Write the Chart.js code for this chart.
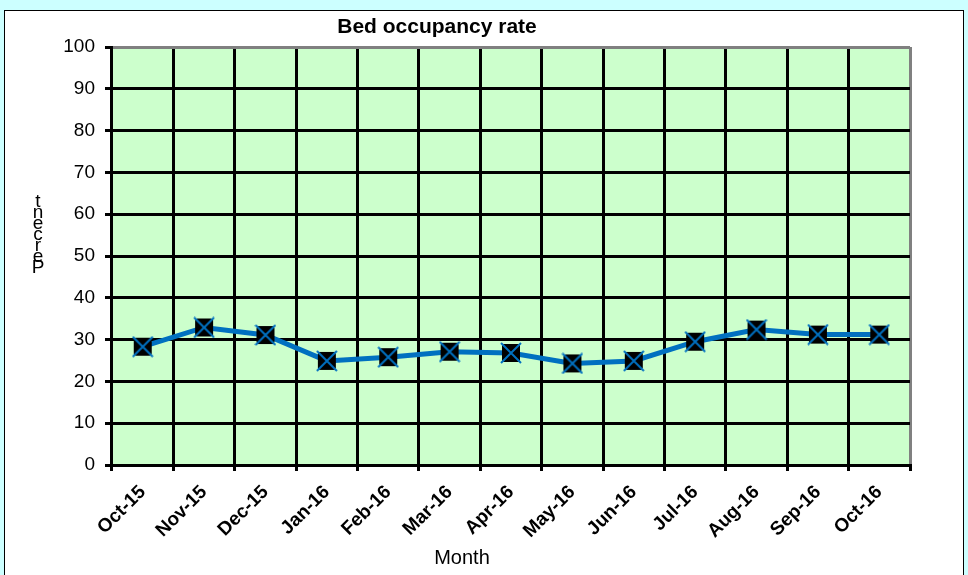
<!DOCTYPE html>
<html><head><meta charset="utf-8">
<script src="https://cdn.jsdelivr.net/npm/chart.js@4.4.1/dist/chart.umd.min.js"></script>
<style>
html,body{margin:0;padding:0;background:#CCFFFF;width:968px;height:575px;overflow:hidden}
#box{position:absolute;left:4px;top:10px;width:958px;height:570px;border:1px solid #000;background:#fff}
canvas{display:block}
</style></head><body>
<div id="box"><canvas id="c" width="958" height="564" style="width:958px;height:564px"></canvas></div>
<script>
const months = ['Oct-15','Nov-15','Dec-15','Jan-16','Feb-16','Mar-16','Apr-16','May-16','Jun-16','Jul-16','Aug-16','Sep-16','Oct-16'];
const occupancy = [28.3, 32.9, 31.1, 24.9, 25.8, 27.1, 26.8, 24.3, 24.9, 29.5, 32.4, 31.2, 31.2];
const yMin = 0, yMax = 100, yStep = 10;
const chartTitle = 'Bed occupancy rate';
const xTitle = 'Month';
const yTitle = 'Percent';

const FONT = "'Liberation Sans', Arial, sans-serif";

function makeMarker(){
  const s = 22, c = document.createElement('canvas');
  c.width = s; c.height = s;
  const g = c.getContext('2d');
  g.fillStyle = '#000';
  g.fillRect(2, 2, 18, 18);
  g.strokeStyle = '#0070C0';
  g.lineWidth = 2;
  g.beginPath();
  g.moveTo(1, 1); g.lineTo(21, 21);
  g.moveTo(21, 1); g.lineTo(1, 21);
  g.stroke();
  return c;
}

const deco = {
  id: 'deco',
  beforeDraw(chart){
    const {ctx, chartArea: a} = chart;
    ctx.save();
    ctx.fillStyle = '#CCFFCC';
    ctx.fillRect(a.left, a.top, a.right - a.left, a.bottom - a.top);
    ctx.restore();
  },
  afterDraw(chart){
    const ctx = chart.ctx;
    ctx.save();
    ctx.fillStyle = '#000';
    ctx.textAlign = 'center';
    ctx.textBaseline = 'middle';
    ctx.font = 'bold 21px ' + FONT;
    ctx.fillText(chartTitle, 432, 16);
    ctx.font = '20px ' + FONT;
    ctx.fillText(xTitle, 457, 547);
    ctx.font = '19px ' + FONT;
    ctx.textBaseline = 'alphabetic';
    const letters = yTitle.split('');
    for (let i = 0; i < letters.length; i++) {
      ctx.fillText(letters[i], 33, 262 - i * 11);
    }
    ctx.restore();
  }
};

new Chart(document.getElementById('c'), {
  type: 'line',
  data: {
    labels: months,
    datasets: [{
      data: occupancy,
      borderColor: '#0070C0',
      borderWidth: 5,
      pointStyle: makeMarker(),
      pointRadius: 11,
      pointHoverRadius: 11,
      tension: 0,
      fill: false
    }]
  },
  options: {
    responsive: false,
    animation: false,
    events: [],
    layout: {padding: {top: 36, right: 53, left: 0, bottom: 0}},
    plugins: {legend: {display: false}, title: {display: false}, tooltip: {enabled: false}},
    scales: {
      x: {
        offset: true,
        grid: {
          offset: true,
          color: c => c.type === 'scale' ? '#808080' : '#000',
          lineWidth: 3,
          tickLength: 6,
          tickColor: '#000'
        },
        border: {color: '#000', width: 2},
        ticks: {
          color: '#000',
          font: {family: FONT, size: 19, weight: 'bold'},
          minRotation: 45, maxRotation: 45,
          padding: 10,
          autoSkip: false
        },
        afterFit(s){ s.height = 110; }
      },
      y: {
        min: yMin, max: yMax,
        grid: {
          color: c => (c.tick && c.tick.value === yMax) ? '#808080' : '#000',
          lineWidth: 3,
          tickLength: 7,
          tickColor: '#000'
        },
        border: {color: '#000', width: 2},
        ticks: {
          stepSize: yStep,
          color: '#000',
          font: {family: FONT, size: 19},
          padding: 10
        },
        afterFit(s){ s.width = 107; }
      }
    }
  },
  plugins: [deco]
});
</script>
</body></html>
